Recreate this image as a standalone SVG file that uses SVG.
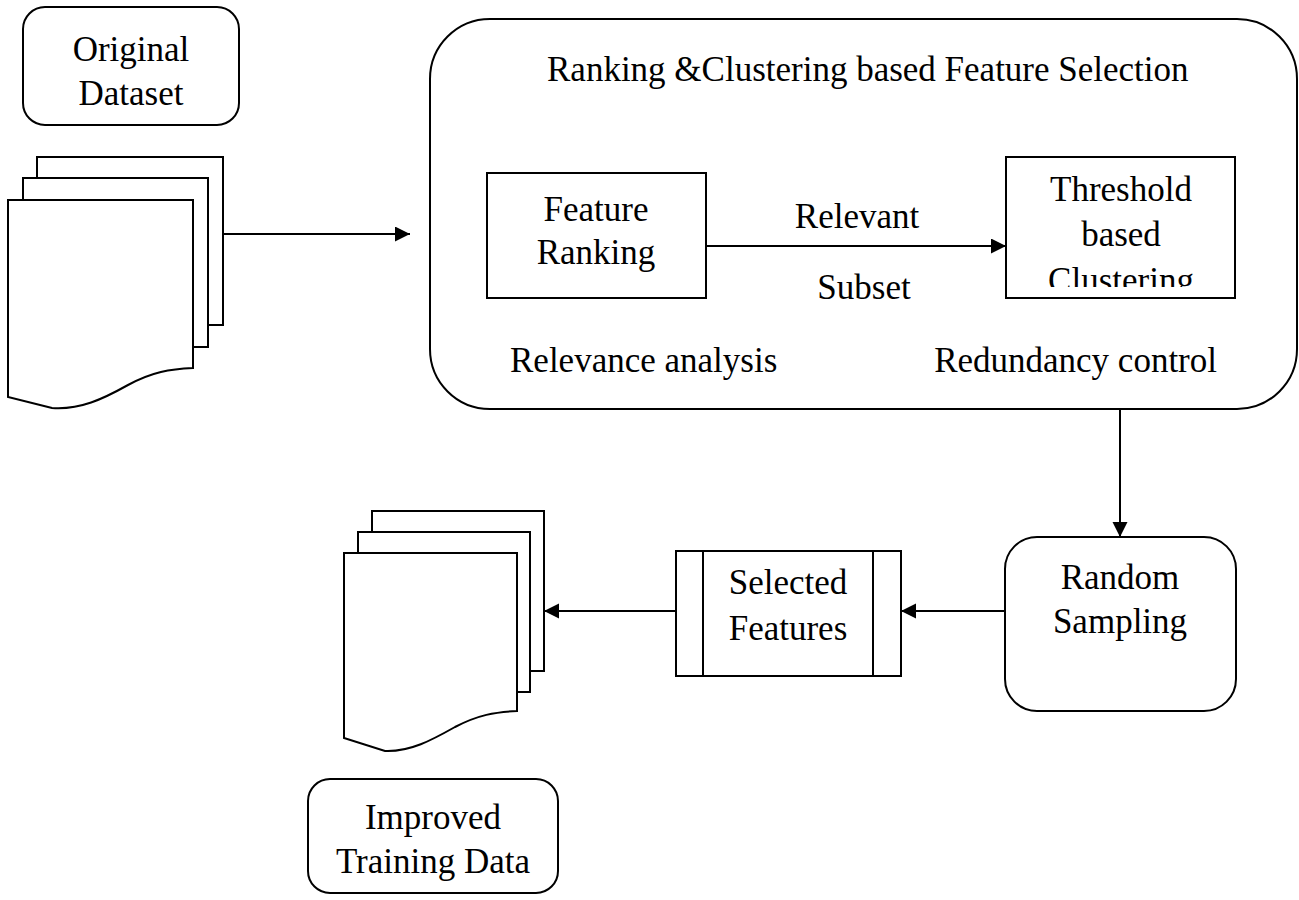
<svg xmlns="http://www.w3.org/2000/svg" width="1299" height="900" viewBox="0 0 1299 900">
<style>
.s{fill:#fff;stroke:#000;stroke-width:2}
.l{fill:none;stroke:#000;stroke-width:2}
text{font-family:"Liberation Serif","Times New Roman",serif;font-size:35px;fill:#000}
.c{text-anchor:middle}
</style>
<defs>
<marker id="ah" markerUnits="userSpaceOnUse" markerWidth="16" markerHeight="16" refX="15" refY="7.5" orient="auto">
<path d="M0,0 L15,7.5 L0,15 Z" fill="#000"/>
</marker>
<clipPath id="clipT"><rect x="1006" y="157" width="229" height="130"/></clipPath>
</defs>
<rect width="1299" height="900" fill="#fff"/>

<g id="original-dataset">
<rect class="s" x="23" y="7" width="216" height="118" rx="22"/>
<text class="c" x="131" y="61">Original</text>
<text class="c" x="131" y="105">Dataset</text>
</g>

<g id="dataset-docs">
<rect class="s" x="37" y="157" width="186" height="168"/>
<rect class="s" x="23" y="178" width="185" height="169"/>
<path class="s" d="M8,200 H193 V368 C170,369 152,372 128,385 C103,399 80,410 52,408 L8,397 Z"/>
</g>

<g id="feature-selection">
<rect class="s" x="430" y="19" width="867" height="390" rx="60"/>
<text x="547" y="81">Ranking &amp;Clustering based Feature Selection</text>
<text x="510" y="372">Relevance analysis</text>
<text x="1217" y="372" text-anchor="end">Redundancy control</text>
</g>

<g id="feature-ranking">
<rect class="s" x="487" y="173" width="219" height="125"/>
<text class="c" x="596" y="221">Feature</text>
<text class="c" x="596" y="264">Ranking</text>
</g>

<g id="threshold-clustering">
<rect class="s" x="1006" y="157" width="229" height="141"/>
<g clip-path="url(#clipT)">
<text class="c" x="1121" y="201">Threshold</text>
<text class="c" x="1121" y="246">based</text>
<text class="c" x="1121" y="292">Clustering</text>
</g>
</g>

<g id="random-sampling">
<rect class="s" x="1005" y="537" width="231" height="174" rx="32"/>
<text class="c" x="1120" y="589">Random</text>
<text class="c" x="1120" y="633">Sampling</text>
</g>

<g id="selected-features">
<rect class="s" x="676" y="551" width="225" height="125"/>
<line class="l" x1="703" y1="551" x2="703" y2="676"/>
<line class="l" x1="873" y1="551" x2="873" y2="676"/>
<text class="c" x="788" y="594">Selected</text>
<text class="c" x="788" y="640">Features</text>
</g>

<g id="improved-docs">
<rect class="s" x="372" y="511" width="172" height="160"/>
<rect class="s" x="358" y="532" width="172" height="160"/>
<path class="s" d="M344,553 H517 V711 C495,712 478,715 455,727 C432,740 410,752 385,751 L344,738 Z"/>
</g>

<g id="improved-training-data">
<rect class="s" x="308" y="779" width="250" height="114" rx="22"/>
<text class="c" x="433" y="829">Improved</text>
<text class="c" x="433" y="873">Training Data</text>
</g>

<g id="connectors">
<line class="l" x1="223" y1="234" x2="410" y2="234" marker-end="url(#ah)"/>
<line class="l" x1="706" y1="246" x2="1006" y2="246" marker-end="url(#ah)"/>
<line class="l" x1="1120" y1="409" x2="1120" y2="537" marker-end="url(#ah)"/>
<line class="l" x1="1005" y1="611" x2="901" y2="611" marker-end="url(#ah)"/>
<line class="l" x1="676" y1="611" x2="544" y2="611" marker-end="url(#ah)"/>
<text class="c" x="857" y="228">Relevant</text>
<text class="c" x="864" y="299">Subset</text>
</g>
</svg>
